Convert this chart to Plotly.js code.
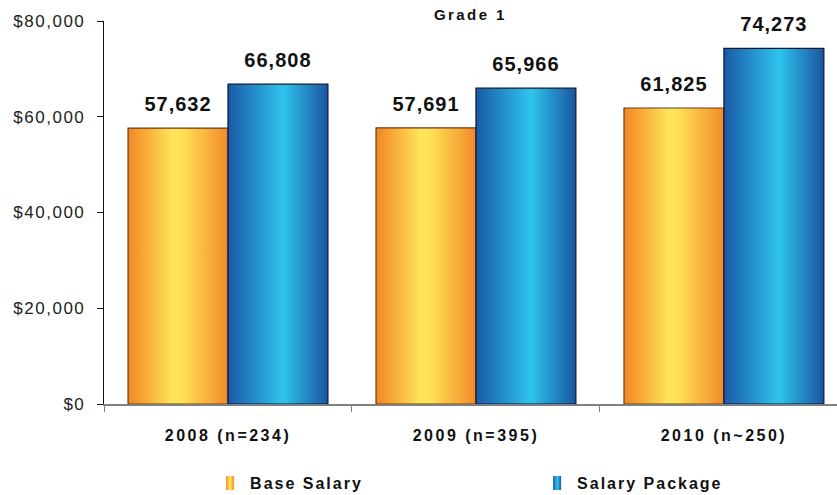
<!DOCTYPE html>
<html>
<head>
<meta charset="utf-8">
<script src="https://cdn.plot.ly/plotly-3.0.1.min.js"></script>
<style>
  html, body { margin: 0; padding: 0; background: #fff; }
  #chart { width: 837px; height: 495px; }
  .ytick text { letter-spacing: 1.5px; }
  .xtick text { letter-spacing: 2.5px; }
  .legendtext { letter-spacing: 2px; }
  .gtitle { letter-spacing: 2.4px; }
  .textpoint text { letter-spacing: 1px; }
</style>
</head>
<body>
<div id="chart"></div>
<script>
const categories = ["2008 (n=234)", "2009 (n=395)", "2010 (n~250)"];
const baseSalary = [57632, 57691, 61825];
const salaryPackage = [66808, 65966, 74273];
const seriesNames = ["Base Salary", "Salary Package"];
const yTickVals = [0, 20000, 40000, 60000, 80000];
const yTickText = ["$0", "$20,000", "$40,000", "$60,000", "$80,000"];
const chartTitle = "Grade 1";

const FONT = "Liberation Sans, Arial, sans-serif";

function barTrace(name, values, color, lineColor) {
  return {
    type: "bar", name: name, x: categories, y: values, offsetgroup: name,
    marker: { color: color, line: { color: lineColor, width: 1.2 } }
  };
}
function labelTrace(name, values) {
  return {
    type: "scatter", mode: "markers+text", x: categories, y: values,
    offsetgroup: name, showlegend: false, hoverinfo: "skip", cliponaxis: false,
    marker: { size: 18, opacity: 0 },
    texttemplate: "%{y:,}", textposition: "top center",
    textfont: { family: FONT, size: 20, weight: 700, color: "#111" }
  };
}

const traces = [
  barTrace(seriesNames[0], baseSalary, "#F7B23F", "#6b3d12"),
  barTrace(seriesNames[1], salaryPackage, "#2390CF", "#0b1733"),
  labelTrace(seriesNames[0], baseSalary),
  labelTrace(seriesNames[1], salaryPackage)
];

const layout = {
  width: 837, height: 495,
  margin: { l: 104, r: 0, t: 21, b: 91, autoexpand: false },
  paper_bgcolor: "#fff", plot_bgcolor: "#fff",
  barmode: "group", bargap: 0.194, bargroupgap: 0,
  scattermode: "group", scattergap: 0.194,
  showlegend: true,
  title: {
    text: "<b>" + chartTitle + "</b>",
    font: { family: FONT, size: 15, color: "#111" },
    x: 0.562, xref: "container", xanchor: "center",
    y: 0.97, yref: "container", yanchor: "middle"
  },
  xaxis: {
    range: [-0.5, 2.456],
    showline: true, linecolor: "#808080", linewidth: 1.5,
    ticks: "outside", tickson: "boundaries", ticklen: 6, tickcolor: "#808080",
    tickfont: { family: FONT, size: 16, weight: 700, color: "#111" },
    ticklabelstandoff: 16,
    showgrid: false, zeroline: false, fixedrange: true
  },
  yaxis: {
    range: [0, 80000],
    tickvals: yTickVals, ticktext: yTickText,
    showline: true, linecolor: "#111", linewidth: 1.3,
    ticks: "outside", ticklen: 6, tickcolor: "#111",
    tickfont: { family: FONT, size: 17, color: "#222" },
    ticklabelstandoff: 8,
    showgrid: false, zeroline: false, fixedrange: true
  },
  legend: {
    orientation: "h",
    xref: "container", yref: "container",
    x: 0.251, xanchor: "left",
    y: 0.024, yanchor: "middle",
    entrywidth: 282, entrywidthmode: "pixels",
    font: { family: FONT, size: 16, weight: 700, color: "#111" },
    bgcolor: "rgba(0,0,0,0)"
  }
};

Plotly.newPlot("chart", traces, layout, { displayModeBar: false, staticPlot: true }).then(function (gd) {
  const svg = gd.querySelector(".main-svg");
  const ns = "http://www.w3.org/2000/svg";
  let defs = svg.querySelector("defs");
  if (!defs) { defs = document.createElementNS(ns, "defs"); svg.insertBefore(defs, svg.firstChild); }
  function addGrad(id, stops) {
    const g = document.createElementNS(ns, "linearGradient");
    g.setAttribute("id", id);
    g.setAttribute("x1", "0"); g.setAttribute("y1", "0");
    g.setAttribute("x2", "1"); g.setAttribute("y2", "0");
    stops.forEach(function (s) {
      const st = document.createElementNS(ns, "stop");
      st.setAttribute("offset", s[0]);
      st.setAttribute("stop-color", s[1]);
      g.appendChild(st);
    });
    defs.appendChild(g);
  }
  addGrad("gradOrange", [[0, "#F28624"], [0.45, "#FFE55A"], [0.55, "#FFE055"], [1, "#F28A2A"]]);
  addGrad("gradBlue", [[0, "#1A5AA6"], [0.55, "#2EC4EE"], [1, "#1A55A0"]]);
  const grads = ["url(#gradOrange)", "url(#gradBlue)"];
  gd.querySelectorAll(".barlayer .trace.bars").forEach(function (tr, i) {
    tr.querySelectorAll("path").forEach(function (p) { p.style.fill = grads[i]; });
  });
  gd.querySelectorAll(".legend .traces").forEach(function (tr, i) {
    tr.querySelectorAll(".legendpoints path").forEach(function (p) {
      p.setAttribute("d", "M4,7H-4V-7H4Z");
      p.style.fill = grads[i];
      p.style.strokeWidth = "0";
    });
  });
});
</script>
</body>
</html>
